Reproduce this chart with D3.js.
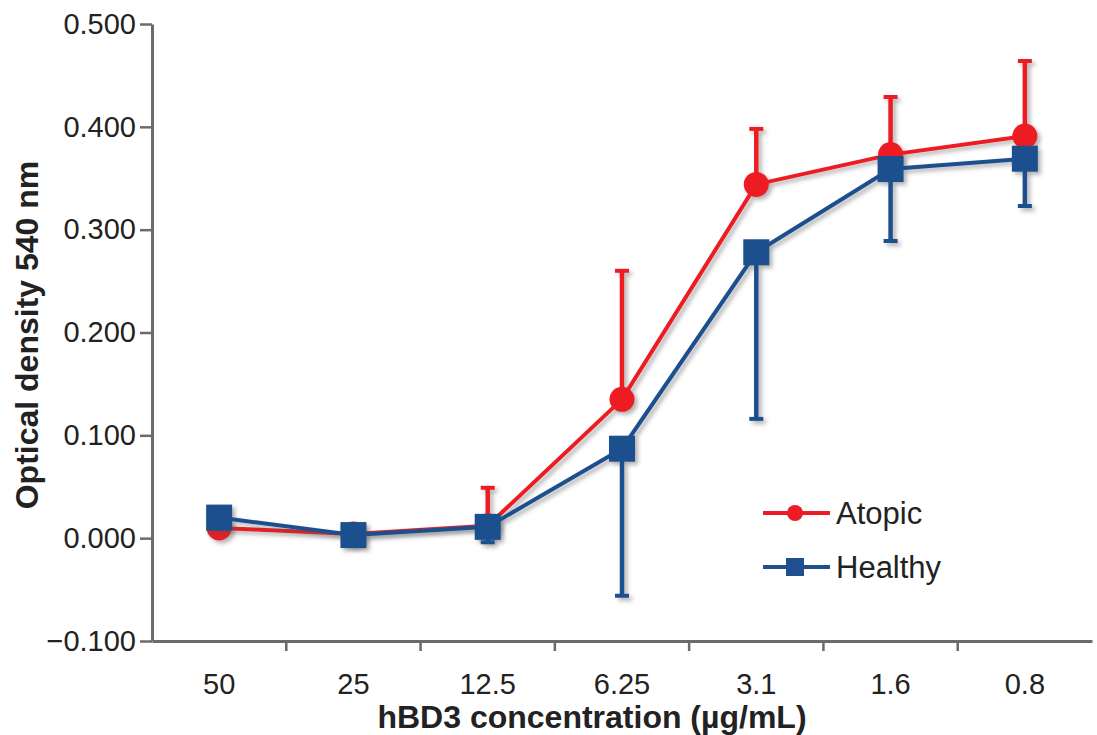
<!DOCTYPE html>
<html>
<head>
<meta charset="utf-8">
<script src="https://cdn.jsdelivr.net/npm/d3@7"></script>
<style>
  html, body { margin: 0; padding: 0; background: #fff; }
  svg { display: block; font-family: "Liberation Sans", Arial, Helvetica, sans-serif; }
</style>
</head>
<body>
<svg id="chart" width="1097" height="735"></svg>
<script>
// hBD3 concentrations (µg/mL), highest to lowest
const concentrations = ["50", "25", "12.5", "6.25", "3.1", "1.6", "0.8"];

// Mean optical density at 540 nm
const atopicMean  = [0.010, 0.004, 0.012, 0.135, 0.344, 0.373, 0.391];
const healthyMean = [0.020, 0.003, 0.011, 0.087, 0.278, 0.359, 0.369];

// Error bar ends: atopic drawn upward, healthy drawn downward
const atopicUpper  = [null, null, 0.049, 0.260, 0.398, 0.429, 0.464];
const healthyLower = [null, null, -0.004, -0.056, 0.116, 0.289, 0.323];

const yTicks = [-0.1, 0.0, 0.1, 0.2, 0.3, 0.4, 0.5];

const seriesNames = ["Atopic", "Healthy"];
const red = "#ec1c24";
const blue = "#1f4f8e";
const ink = "#222";

const svg = d3.select("#chart");
const margin = { left: 152, right: 5, top: 24, bottom: 94 };
const W = 1097, H = 735;

const x = d3.scaleBand()
  .domain(concentrations)
  .range([margin.left, W - margin.right])
  .paddingInner(0).paddingOuter(0);

const y = d3.scaleLinear()
  .domain([-0.1, 0.5])
  .range([H - margin.bottom, margin.top]);

// soft drop shadow under the data marks
const defs = svg.append("defs");
const f = defs.append("filter").attr("id", "shadow")
  .attr("x", "-20%").attr("y", "-20%").attr("width", "140%").attr("height", "140%");
f.append("feDropShadow")
  .attr("dx", 3).attr("dy", 3).attr("stdDeviation", 2)
  .attr("flood-color", "#555").attr("flood-opacity", 0.45);

// Axes
const yAxis = d3.axisLeft(y).tickValues(yTicks)
  .tickFormat(d => d3.format(".3f")(d).replace("-", "\u2212"))
  .tickSize(12).tickSizeOuter(0);
const gy = svg.append("g").attr("transform", `translate(${margin.left},0)`).call(yAxis);

const xAxis = d3.axisBottom(x).tickSize(0).tickSizeOuter(0);
const gx = svg.append("g").attr("transform", `translate(0,${y(-0.1)})`).call(xAxis);

[gy, gx].forEach(g => {
  g.select(".domain").attr("stroke", "#6b6b6b").attr("stroke-width", 3);
  g.selectAll(".tick line").attr("stroke", "#6b6b6b").attr("stroke-width", 2.5);
  g.selectAll(".tick text").attr("fill", ink).attr("font-size", 29);
});
gy.selectAll(".tick text").attr("x", -16);
gx.selectAll(".tick text").attr("y", 53).attr("dy", 0);

// x tick marks sit on the band boundaries
gx.selectAll(".boundary")
  .data(concentrations.slice(1))
  .enter().append("line")
  .attr("x1", d => x(d)).attr("x2", d => x(d))
  .attr("y1", 0).attr("y2", 10)
  .attr("stroke", "#6b6b6b").attr("stroke-width", 2.5);

// Axis titles
svg.append("text")
  .attr("transform", `translate(30,335) rotate(-90)`)
  .attr("text-anchor", "middle")
  .attr("dominant-baseline", "middle")
  .attr("font-weight", "bold").attr("font-size", 32).attr("fill", ink)
  .text("Optical density 540 nm");

svg.append("text")
  .attr("x", 592).attr("y", 728)
  .attr("text-anchor", "middle")
  .attr("font-weight", "bold").attr("font-size", 32).attr("fill", ink)
  .text("hBD3 concentration (µg/mL)");

const cx = d => x(d) + x.bandwidth() / 2;
const line = d3.line().x(d => cx(d.c)).y(d => y(d.v));

function drawSeries(means, bars, color, shape) {
  const g = svg.append("g").attr("filter", "url(#shadow)");
  const pts = concentrations.map((c, i) => ({ c, v: means[i], e: bars[i] }));
  g.append("path").datum(pts)
    .attr("d", line).attr("fill", "none")
    .attr("stroke", color).attr("stroke-width", 4);
  const eb = pts.filter(p => p.e !== null);
  g.selectAll(".err").data(eb).enter().append("line")
    .attr("x1", p => cx(p.c)).attr("x2", p => cx(p.c))
    .attr("y1", p => y(p.v)).attr("y2", p => y(p.e))
    .attr("stroke", color).attr("stroke-width", 4.5);
  g.selectAll(".cap").data(eb).enter().append("line")
    .attr("x1", p => cx(p.c) - 7).attr("x2", p => cx(p.c) + 7)
    .attr("y1", p => y(p.e)).attr("y2", p => y(p.e))
    .attr("stroke", color).attr("stroke-width", 4);
  if (shape === "circle") {
    g.selectAll(".pt").data(pts).enter().append("circle")
      .attr("cx", p => cx(p.c)).attr("cy", p => y(p.v)).attr("r", 12.5)
      .attr("fill", color);
  } else {
    g.selectAll(".pt").data(pts).enter().append("rect")
      .attr("x", p => cx(p.c) - 13).attr("y", p => y(p.v) - 13)
      .attr("width", 26).attr("height", 26)
      .attr("fill", color);
  }
}

drawSeries(atopicMean, atopicUpper, red, "circle");
drawSeries(healthyMean, healthyLower, blue, "square");

// Legend
const legend = svg.append("g");
const legendY = [513, 567];
seriesNames.forEach((name, i) => {
  const color = i === 0 ? red : blue;
  const g = legend.append("g").attr("transform", `translate(0,${legendY[i]})`);
  g.append("line").attr("x1", 763).attr("x2", 830).attr("y1", 0).attr("y2", 0)
    .attr("stroke", color).attr("stroke-width", 4);
  if (i === 0) {
    g.append("circle").attr("cx", 795).attr("cy", 0).attr("r", 8).attr("fill", color);
  } else {
    g.append("rect").attr("x", 786).attr("y", -9).attr("width", 18).attr("height", 18).attr("fill", color);
  }
  g.append("text").attr("x", 836).attr("y", 0).attr("dy", "0.36em")
    .attr("font-size", 31).attr("fill", ink).text(name);
});
</script>
</body>
</html>
